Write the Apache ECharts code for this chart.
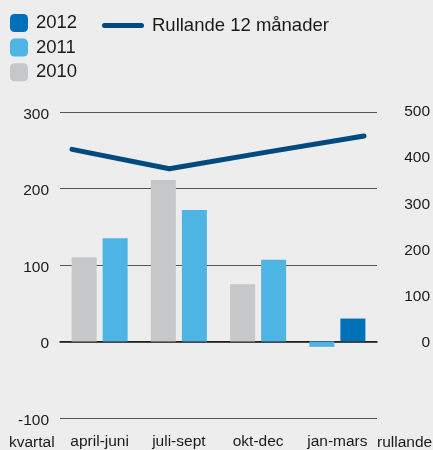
<!DOCTYPE html>
<html style="height: 100%">
<head>
<meta charset="utf-8">
<script src="https://cdn.jsdelivr.net/npm/echarts@6/dist/echarts.min.js"></script>
</head>
<body style="height: 100%; margin: 0; background: #ecedec">
<div id="container" style="width: 433px; height: 450px"></div>
<script>
// chart data
var categories = ['april-juni', 'juli-sept', 'okt-dec', 'jan-mars'];
var y2010 = [110, 211, 75, null];
var y2011 = [135, 172, 107, -7];
var y2012 = [null, null, null, 30];
var rolling12 = [417, 375, 411, 446];
var leftTicks = { min: -100, max: 300, interval: 100 };
var rightTicks = { min: 0, max: 500, interval: 100 };

var FONT = '"Liberation Sans", Arial, sans-serif';
var TXT = '#1a1a1a';

// 2011 sits in the right slot when 2010 exists, otherwise in the left slot
var y2011Right = y2011.map(function (v, i) { return y2010[i] != null ? v : '-'; });
var y2011Left = y2011.map(function (v, i) { return y2010[i] != null ? '-' : v; });
var nn = function (arr) { return arr.map(function (v) { return v == null ? '-' : v; }); };

var myChart = echarts.init(document.getElementById('container'));

var option = {
    backgroundColor: '#ecedec',
    animation: false,
    textStyle: { fontFamily: FONT, color: TXT },
    legend: [{
        data: ['2012', '2011', '2010'],
        orient: 'vertical',
        left: 10, top: 13.5, padding: 0,
        itemWidth: 18, itemHeight: 18, itemGap: 5.6,
        icon: 'roundRect',
        selectedMode: false,
        textStyle: { fontSize: 18.5, color: TXT, fontFamily: FONT, padding: [0, 0, 0, 3] }
    }, {
        data: [{ name: 'Rullande 12 månader', icon: 'path://M2.5,0 L39.5,0 A2.5,2.5 0 0 1 39.5,5 L2.5,5 A2.5,2.5 0 0 1 2.5,0 Z' }],
        left: 102, top: 16, padding: 0,
        itemWidth: 42, itemHeight: 5,
        selectedMode: false,
        textStyle: { fontSize: 18.5, color: TXT, fontFamily: FONT, padding: [0, 0, 0, 3] }
    }],
    graphic: [
        { type: 'text', left: 9, top: 435, style: { text: 'kvartal', font: '15.5px ' + FONT, fill: TXT } },
        { type: 'text', left: 377, top: 435, style: { text: 'rullande', font: '15.5px ' + FONT, fill: TXT } }
    ],
    grid: [
        { left: 60, right: 56, top: 112, bottom: 30 },
        { left: 72, right: 69, top: 111, bottom: 108 }
    ],
    xAxis: [{
        type: 'category',
        gridIndex: 0,
        data: categories,
        axisTick: { show: false },
        axisLine: { onZero: true, lineStyle: { color: '#111', width: 1.5 } },
        axisLabel: { fontSize: 15.5, color: TXT, fontFamily: FONT, margin: 16, interval: 0 }
    }, {
        type: 'category',
        gridIndex: 1,
        data: categories,
        boundaryGap: false,
        show: false
    }],
    yAxis: [{
        type: 'value',
        gridIndex: 0,
        min: leftTicks.min, max: leftTicks.max, interval: leftTicks.interval,
        axisLine: { show: false },
        axisTick: { show: false },
        splitLine: { lineStyle: { color: '#555', width: 1 } },
        axisLabel: {
            color: TXT, fontFamily: FONT, margin: 11,
            formatter: '{v|{value}}',
            rich: { v: { fontSize: 15.5, fontFamily: FONT, color: TXT, padding: [5, 0, 0, 0] } }
        }
    }, {
        type: 'value',
        gridIndex: 1,
        position: 'right',
        min: rightTicks.min, max: rightTicks.max, interval: rightTicks.interval,
        axisLine: { show: false },
        axisTick: { show: false },
        splitLine: { show: false },
        axisLabel: {
            color: TXT, fontFamily: FONT, margin: 66, align: 'right',
            formatter: '{v|{value}}',
            rich: { v: { fontSize: 15.5, fontFamily: FONT, color: TXT, padding: [2, 0, 0, 0] } }
        }
    }],
    series: [{
        name: '2010', type: 'bar', stack: 'L',
        xAxisIndex: 0, yAxisIndex: 0,
        barWidth: 25, barGap: '24%',
        itemStyle: { color: '#c6c7c9' },
        data: nn(y2010)
    }, {
        name: '2011', type: 'bar', stack: 'R',
        xAxisIndex: 0, yAxisIndex: 0,
        barWidth: 25, barGap: '24%',
        itemStyle: { color: '#4db4e4' },
        data: y2011Right
    }, {
        name: '2011', type: 'bar', stack: 'L',
        xAxisIndex: 0, yAxisIndex: 0,
        barWidth: 25, barGap: '24%',
        itemStyle: { color: '#4db4e4' },
        data: y2011Left
    }, {
        name: '2012', type: 'bar', stack: 'R',
        xAxisIndex: 0, yAxisIndex: 0,
        barWidth: 25, barGap: '24%',
        itemStyle: { color: '#0070b9' },
        data: nn(y2012)
    }, {
        name: 'Rullande 12 månader', type: 'line',
        xAxisIndex: 1, yAxisIndex: 1,
        showSymbol: false, symbol: 'none',
        lineStyle: { color: '#004a7f', width: 5, cap: 'round', join: 'round' },
        itemStyle: { color: '#004a7f' },
        data: rolling12,
        z: 5
    }]
};

myChart.setOption(option);
</script>
</body>
</html>
